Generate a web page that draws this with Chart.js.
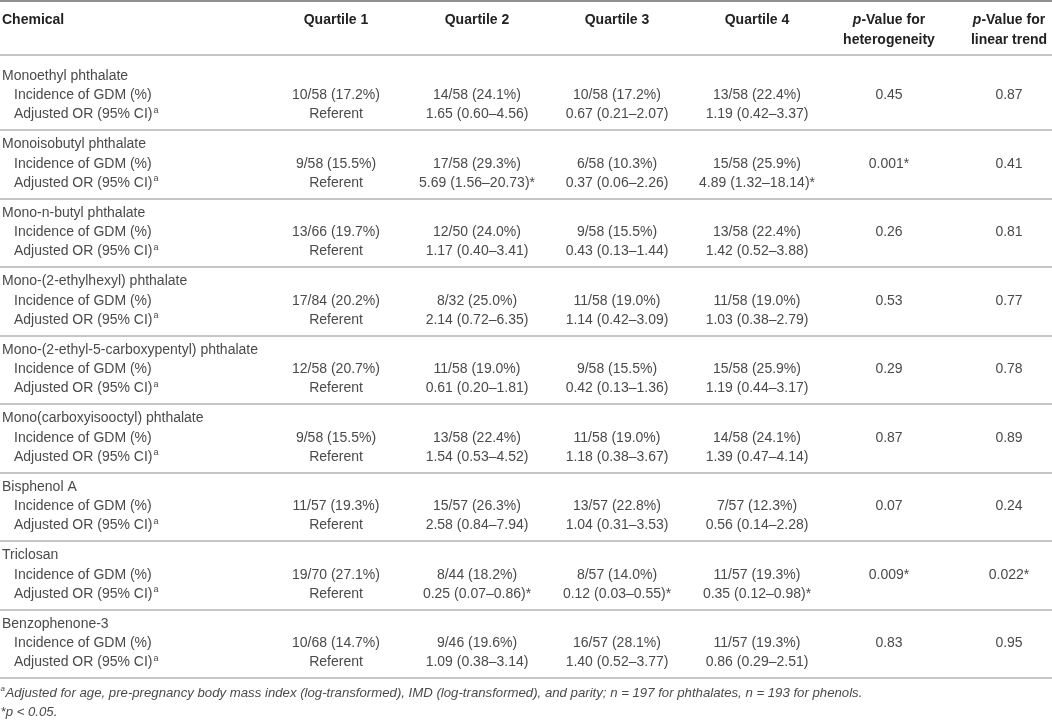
<!DOCTYPE html>
<html>
<head>
<meta charset="utf-8">
<script src="https://cdn.jsdelivr.net/npm/chart.js@4.4.0/dist/chart.umd.min.js"></script>
<style>
  html, body { margin: 0; padding: 0; background: #ffffff; }
  #wrap { width: 1052px; height: 721px; }
</style>
</head>
<body>
<div id="wrap"><canvas id="c" width="1052" height="721"></canvas></div>
<script>
// ---------------- DATA ----------------
const columnHeaders = ["Chemical", "Quartile 1", "Quartile 2", "Quartile 3", "Quartile 4"];
const pHeaderLines = [["p", "-Value for", "heterogeneity"], ["p", "-Value for", "linear trend"]];
const rowLabels = ["Incidence of GDM (%)", "Adjusted OR (95% CI)"];
const referentLabel = "Referent";

const chemicals = [
  "Monoethyl phthalate",
  "Monoisobutyl phthalate",
  "Mono-n-butyl phthalate",
  "Mono-(2-ethylhexyl) phthalate",
  "Mono-(2-ethyl-5-carboxypentyl) phthalate",
  "Mono(carboxyisooctyl) phthalate",
  "Bisphenol A",
  "Triclosan",
  "Benzophenone-3"
];

// Incidence of GDM per quartile: cases / total (percent)
const gdmCases = [
  [10, 14, 10, 13], [9, 17, 6, 15], [13, 12, 9, 13], [17, 8, 11, 11], [12, 11, 9, 15],
  [9, 13, 11, 14], [11, 15, 13, 7], [19, 8, 8, 11], [10, 9, 16, 11]
];
const gdmTotals = [
  [58, 58, 58, 58], [58, 58, 58, 58], [66, 50, 58, 58], [84, 32, 58, 58], [58, 58, 58, 58],
  [58, 58, 58, 58], [57, 57, 57, 57], [70, 44, 57, 57], [68, 46, 57, 57]
];
const gdmPercent = [
  [17.2, 24.1, 17.2, 22.4], [15.5, 29.3, 10.3, 25.9], [19.7, 24.0, 15.5, 22.4],
  [20.2, 25.0, 19.0, 19.0], [20.7, 19.0, 15.5, 25.9], [15.5, 22.4, 19.0, 24.1],
  [19.3, 26.3, 22.8, 12.3], [27.1, 18.2, 14.0, 19.3], [14.7, 19.6, 28.1, 19.3]
];

// Adjusted OR for quartiles 2-4 (quartile 1 = referent)
const orEstimate = [
  [1.65, 0.67, 1.19], [5.69, 0.37, 4.89], [1.17, 0.43, 1.42], [2.14, 1.14, 1.03], [0.61, 0.42, 1.19],
  [1.54, 1.18, 1.39], [2.58, 1.04, 0.56], [0.25, 0.12, 0.35], [1.09, 1.40, 0.86]
];
const orLower = [
  [0.60, 0.21, 0.42], [1.56, 0.06, 1.32], [0.40, 0.13, 0.52], [0.72, 0.42, 0.38], [0.20, 0.13, 0.44],
  [0.53, 0.38, 0.47], [0.84, 0.31, 0.14], [0.07, 0.03, 0.12], [0.38, 0.52, 0.29]
];
const orUpper = [
  [4.56, 2.07, 3.37], [20.73, 2.26, 18.14], [3.41, 1.44, 3.88], [6.35, 3.09, 2.79], [1.81, 1.36, 3.17],
  [4.52, 3.67, 4.14], [7.94, 3.53, 2.28], [0.86, 0.55, 0.98], [3.14, 3.77, 2.51]
];
const orSignificant = [
  [false, false, false], [true, false, true], [false, false, false], [false, false, false], [false, false, false],
  [false, false, false], [false, false, false], [true, true, true], [false, false, false]
];

const pHeterogeneity = ["0.45", "0.001*", "0.26", "0.53", "0.29", "0.87", "0.07", "0.009*", "0.83"];
const pLinearTrend   = ["0.87", "0.41", "0.81", "0.77", "0.78", "0.89", "0.24", "0.022*", "0.95"];

const footnoteA = "Adjusted for age, pre-pregnancy body mass index (log-transformed), IMD (log-transformed), and parity; n = 197 for phthalates, n = 193 for phenols.";
const footnoteStar = "*p < 0.05.";

// ---------------- LAYOUT (styling only) ----------------
const GROUP_PITCH_PX = 68.5;     // px per group unit on the y scale
const FIRST_GROUP_PX = 76;       // pixel of first group title
const W = 1052, H = 721;
const SUB_STEP = 0.28;           // sub-row spacing in group units
const colX = { label: 2, sub: 14, q: [336, 477, 617, 757], het: 889, trend: 1009 };
const yHeader1 = -0.81, yHeader2 = -0.53;
const ruleValues = [-1.095, -0.30].concat(chemicals.map((_, g) => g + 0.79));
const yFoot1 = chemicals.length - 1 + 1.01, yFoot2 = chemicals.length - 1 + 1.285;

const FONT = '"Liberation Sans", Arial, "Helvetica Neue", Helvetica, sans-serif';
const TEXT = '#4a4a4a', HEAD = '#222222';

function fmtOR(g, k) {
  return orEstimate[g][k].toFixed(2) + ' (' + orLower[g][k].toFixed(2) + '\u2013' + orUpper[g][k].toFixed(2) + ')' + (orSignificant[g][k] ? '*' : '');
}
function fmtInc(g, q) {
  return gdmCases[g][q] + '/' + gdmTotals[g][q] + ' (' + gdmPercent[g][q].toFixed(1) + '%)';
}

const tablePlugin = {
  id: 'tableText',
  afterDraw(chart) {
    const ctx = chart.ctx;
    const xs = chart.scales.x, ys = chart.scales.y;
    const X = v => xs.getPixelForValue(v);
    const Y = v => ys.getPixelForValue(v);
    ctx.save();
    ctx.textBaseline = 'middle';

    // Header
    ctx.fillStyle = HEAD;
    ctx.font = 'bold 14px ' + FONT;
    ctx.textAlign = 'left';
    ctx.fillText(columnHeaders[0], X(colX.label), Y(yHeader1));
    ctx.textAlign = 'center';
    for (let q = 0; q < 4; q++) ctx.fillText(columnHeaders[q + 1], X(colX.q[q]), Y(yHeader1));

    [[pHeaderLines[0], colX.het], [pHeaderLines[1], colX.trend]].forEach(([parts, cx]) => {
      ctx.font = 'italic bold 14px ' + FONT;
      const w1 = ctx.measureText(parts[0]).width;
      ctx.font = 'bold 14px ' + FONT;
      const w2 = ctx.measureText(parts[1]).width;
      const left = X(cx) - (w1 + w2) / 2;
      ctx.textAlign = 'left';
      ctx.font = 'italic bold 14px ' + FONT;
      ctx.fillText(parts[0], left, Y(yHeader1));
      ctx.font = 'bold 14px ' + FONT;
      ctx.fillText(parts[1], left + w1, Y(yHeader1));
      ctx.textAlign = 'center';
      ctx.fillText(parts[2], X(cx), Y(yHeader2));
    });

    // Body
    ctx.fillStyle = TEXT;
    chemicals.forEach((name, g) => {
      const yT = Y(g), yI = Y(g + SUB_STEP), yA = Y(g + 2 * SUB_STEP);
      ctx.font = '14px ' + FONT;
      ctx.textAlign = 'left';
      ctx.fillText(name, X(colX.label), yT);
      ctx.fillText(rowLabels[0], X(colX.sub), yI);
      ctx.fillText(rowLabels[1], X(colX.sub), yA);
      const wa = ctx.measureText(rowLabels[1]).width;
      ctx.font = '9px ' + FONT;
      ctx.fillText('a', X(colX.sub) + wa + 1, yA - 4);

      ctx.font = '14px ' + FONT;
      ctx.textAlign = 'center';
      for (let q = 0; q < 4; q++) {
        ctx.fillText(fmtInc(g, q), X(colX.q[q]), yI);
        ctx.fillText(q === 0 ? referentLabel : fmtOR(g, q - 1), X(colX.q[q]), yA);
      }
      ctx.fillText(pHeterogeneity[g], X(colX.het), yI);
      ctx.fillText(pLinearTrend[g], X(colX.trend), yI);
    });

    // Footnotes
    ctx.textAlign = 'left';
    ctx.font = 'italic 8px ' + FONT;
    ctx.fillText('a', X(0.5), Y(yFoot1) - 4);
    const wsa = ctx.measureText('a').width;
    ctx.font = 'italic 13.2px ' + FONT;
    ctx.fillText(footnoteA, X(0.5) + wsa + 0.5, Y(yFoot1));
    ctx.fillText(footnoteStar, X(0.5), Y(yFoot2));
    ctx.restore();
  }
};

new Chart(document.getElementById('c'), {
  type: 'scatter',
  data: { datasets: [] },
  options: {
    responsive: false,
    animation: false,
    events: [],
    layout: { padding: 0 },
    plugins: { legend: { display: false }, tooltip: { enabled: false }, title: { display: false } },
    scales: {
      x: { type: 'linear', min: 0, max: W, display: false },
      y: {
        type: 'linear',
        reverse: true,
        bounds: 'data',
        min: -FIRST_GROUP_PX / GROUP_PITCH_PX,
        max: (H - FIRST_GROUP_PX) / GROUP_PITCH_PX,
        afterBuildTicks: s => { s.ticks = ruleValues.map(v => ({ value: v })); },
        ticks: { display: false, autoSkip: false },
        border: { display: false },
        grid: {
          drawTicks: false,
          color: c => (c.index === 0 ? '#8f8f8f' : '#c6c6c6'),
          lineWidth: 2
        }
      }
    }
  },
  plugins: [tablePlugin]
});
</script>
</body>
</html>
